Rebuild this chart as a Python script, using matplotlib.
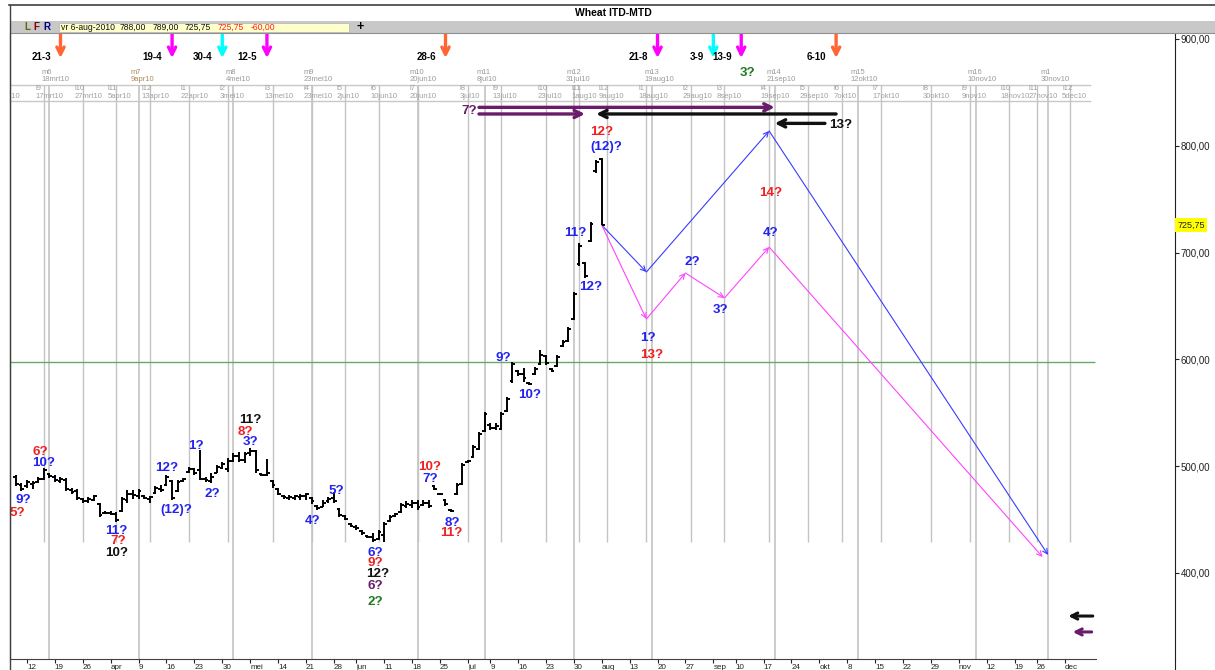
import numpy as np
import pandas as pd
import matplotlib
matplotlib.use("Agg")
import matplotlib.pyplot as plt
from matplotlib.patches import Rectangle
from matplotlib.lines import Line2D
from matplotlib.ticker import FuncFormatter

plt.rcParams['font.family'] = ['Liberation Sans', 'DejaVu Sans']

# ---------------- data ----------------
holidays = ["2010-05-31", "2010-07-05", "2010-09-06", "2010-11-25"]
first_bar = "2010-03-10"
last_bar = "2010-08-06"

bar_high = [492, 484, 487, 486, 490, 498, 494, 492, 490, 489, 480, 479,
            470, 471, 473, 466, 458, 458, 457, 471, 478, 478, 479, 473,
            472, 481, 482, 492, 487, 487, 489, 499, 498, 515, 490, 494,
            501, 504, 508, 512, 513, 513, 517, 515, 494, 507, 487, 480,
            473, 473, 473, 474, 475, 471, 464, 468, 471, 476, 461, 454,
            447, 445, 440, 436, 437, 440, 448, 454, 456, 466, 467, 468,
            468, 468, 468, 482, 475, 469, 460, 484, 503, 506, 520, 532,
            551, 540, 540, 551, 565, 598, 590, 592, 579, 593, 609, 604,
            592, 604, 618, 630, 663, 709, 691, 729, 787, 789]
bar_low = [481, 477, 480, 479, 484, 487, 489, 485, 484, 477, 474, 468,
           466, 466, 467, 452, 455, 454, 448, 457, 466, 469, 469, 469,
           466, 474, 476, 481, 468, 476, 485, 494, 492, 487, 485, 484,
           494, 497, 495, 504, 504, 503, 510, 494, 491, 491, 480, 473,
           469, 468, 468, 468, 468, 465, 459, 462, 466, 466, 452, 450,
           443, 440, 436, 433, 429, 431, 429, 448, 452, 456, 461, 461,
           459, 463, 461, 478, 473, 463, 457, 473, 482, 503, 508, 515,
           532, 534, 534, 534, 551, 578, 584, 579, 576, 585, 595, 595,
           588, 593, 612, 616, 637, 687, 676, 710, 775, 725.75]
bar_open = [490, 482, 481, 483, 485, 488, 493, 490, 486, 487, 478, 477,
            469, 467, 468, 465, 456, 456, 455, 458, 468, 474, 472, 472,
            469, 475, 479, 482, 486, 477, 486, 495, 497, 496, 488, 486,
            494, 498, 497, 505, 510, 506, 512, 514, 493, 492, 486, 479,
            472, 470, 470, 471, 472, 470, 463, 462, 467, 470, 460, 453,
            446, 443, 439, 435, 434, 432, 436, 449, 453, 457, 463, 464,
            466, 464, 466, 481, 474, 468, 459, 474, 483, 504, 509, 516,
            533, 539, 536, 535, 552, 580, 589, 586, 578, 586, 596, 603,
            591, 594, 613, 617, 638, 689, 690, 711, 776, 788]
bar_close = [483, 479, 485, 484, 488, 496, 491, 487, 488, 479, 476, 470,
             467, 469, 472, 454, 456, 455, 450, 469, 474, 473, 477, 470,
             471, 480, 478, 490, 470, 485, 488, 497, 494, 488, 487, 490,
             499, 502, 505, 510, 506, 511, 514, 496, 492, 494, 482, 474,
             471, 471, 472, 472, 474, 467, 461, 466, 469, 467, 454, 451,
             444, 442, 437, 434, 431, 438, 446, 452, 455, 464, 465, 466,
             462, 466, 463, 479, 474, 465, 458, 482, 501, 505, 518, 530,
             549, 536, 538, 549, 563, 596, 586, 583, 577, 591, 604, 597,
             589, 602, 616, 628, 661, 706, 678, 727, 785, 725.75]

last_price = 725.75
support_level = 597.6

tick_labels = ['12', '19', '26', 'apr', '9', '16', '23', '30', 'mei', '14', '21', '28',
               'jun', '11', '18', '25', 'jul', '9', '16', '23', '30', 'aug', '13', '20',
               '27', 'sep', '10', '17', '24', 'okt', '8', '15', '22', '29', 'nov', '12',
               '19', '26', 'dec']
price_ticks = [400, 500, 600, 700, 800, 900]

m_names = ['m6', 'm7', 'm8', 'm9', 'm10', 'm11', 'm12', 'm13', 'm14', 'm15', 'm16', 'm1']
m_dates = ['2010-03-18', '2010-04-09', '2010-05-04', '2010-05-23', '2010-06-20', '2010-07-08',
           '2010-07-31', '2010-08-19', '2010-09-21', '2010-10-12', '2010-11-10', '2010-11-30']
l_names = ['l8', 'l9', 'l10', 'l11', 'l12', 'l1', 'l2', 'l3', 'l4', 'l5', 'l6', 'l7', 'l8', 'l9',
           'l10', 'l11', 'l12', 'l1', 'l2', 'l3', 'l4', 'l5', 'l6', 'l7', 'l8', 'l9', 'l10',
           'l11', 'l12']
l_dates = ['2010-03-08', '2010-03-17', '2010-03-27', '2010-04-05', '2010-04-13', '2010-04-22',
           '2010-05-03', '2010-05-13', '2010-05-23', '2010-06-02', '2010-06-10', '2010-06-20',
           '2010-07-03', '2010-07-13', '2010-07-23', '2010-08-01', '2010-08-09', '2010-08-18',
           '2010-08-29', '2010-09-08', '2010-09-19', '2010-09-29', '2010-10-07', '2010-10-17',
           '2010-10-30', '2010-11-09', '2010-11-18', '2010-11-27', '2010-12-05']

turn_labels = ['21-3', '19-4', '30-4', '12-5', '28-6', '21-8', '3-9', '13-9', '6-10']
turn_dates = ['2010-03-21', '2010-04-19', '2010-04-30', '2010-05-12', '2010-06-28',
              '2010-08-21', '2010-09-03', '2010-09-13', '2010-10-06']
turn_kinds = ['o', 'm', 'c', 'm', 'o', 'm', 'c', 'm', 'o']

blue_dates = ['2010-08-06', '2010-08-18', '2010-09-20', '2010-11-30']
blue_prices = [725.75, 681.8, 813.9, 416.9]
pink_dates = ['2010-08-06', '2010-08-18', '2010-08-27', '2010-09-08', '2010-09-20', '2010-11-29']
pink_prices = [725.75, 637.8, 680.9, 657.5, 705.2, 415.0]

# horizontal time-projection arrows: (kind, start, end, price)
time_arrows = [('p', '2010-07-07', '2010-09-21', 836.0),
               ('p', '2010-07-07', '2010-08-03', 829.8),
               ('k', '2010-10-06', '2010-08-05', 829.8),
               ('k', '2010-10-04', '2010-09-21', 821.0)]
# off-scale markers at right (trading-day offsets from 12 mrt)
marker_arrows = [('k', 191.0, 186.6, 359.7), ('p', 190.8, 187.4, 344.8)]

# wave count labels: (text, colour, trading-day offset, price)
wave_labels = [("5?", 'r', -1.8, 456.2), ("9?", 'b', -0.7, 468.4), ("6?", 'r', 2.3, 513.3),
               ("10?", 'b', 3.0, 503.0), ("11?", 'b', 16.0, 439.3), ("7?", 'r', 16.3, 430.0),
               ("10?", 'k', 16.0, 418.7), ("12?", 'b', 25.1, 498.3), ("(12)?", 'b', 26.7, 459.0),
               ("1?", 'b', 30.3, 518.9), ("2?", 'b', 33.2, 474.0), ("11?", 'k', 40.0, 543.3),
               ("8?", 'r', 39.2, 532.0), ("3?", 'b', 40.1, 522.7), ("4?", 'b', 51.1, 448.7),
               ("5?", 'b', 55.4, 476.8), ("6?", 'b', 62.4, 418.7), ("9?", 'r', 62.4, 409.4),
               ("12?", 'k', 62.9, 399.0), ("6?", 'p', 62.4, 387.8), ("2?", 'g', 62.4, 372.8),
               ("10?", 'r', 72.2, 499.3), ("7?", 'b', 72.2, 488.0), ("8?", 'b', 76.3, 446.8),
               ("11?", 'r', 76.0, 437.5), ("9?", 'b', 85.3, 601.3), ("10?", 'b', 90.1, 566.7),
               ("11?", 'b', 98.2, 718.4), ("12?", 'b', 101.1, 667.8), ("12?", 'r', 103.0, 812.9),
               ("(12)?", 'b', 103.8, 798.9), ("1?", 'b', 111.3, 620.0), ("13?", 'r', 112.0, 604.1),
               ("2?", 'b', 119.2, 691.2), ("3?", 'b', 124.2, 646.3), ("14?", 'r', 133.2, 755.8),
               ("4?", 'b', 133.3, 718.4), ("3?", 'g', 129.2, 868.2), ("13?", 'k', 145.9, 819.5),
               ("7?", 'p', 79.2, 832.6)]

COL = {'b': '#2323F0', 'r': '#F02020', 'k': '#111111', 'p': '#6A1B6A', 'g': '#1E7B1E',
       'o': '#FF6633', 'm': '#FF00FF', 'c': '#00FFFF'}
DUTCH = ['', 'jan', 'feb', 'mrt', 'apr', 'mei', 'jun', 'jul', 'aug', 'sep', 'okt', 'nov', 'dec']

# ---------------- trading calendar ----------------
days = pd.bdate_range('2010-03-01', '2010-12-31')
days = days[~days.isin(pd.to_datetime(holidays))]
day_set = set(days)
origin = days.get_loc(pd.Timestamp('2010-03-12'))


def tx(date):
    d = pd.Timestamp(date)
    if d.weekday() == 5:
        d -= pd.Timedelta(days=1)
    elif d.weekday() == 6:
        d += pd.Timedelta(days=1)
    while d not in day_set:
        d += pd.Timedelta(days=1)
    return days.get_loc(d) - origin


bar_days = days[(days >= first_bar) & (days <= last_bar)]
bx = np.array([days.get_loc(d) - origin for d in bar_days], dtype=float)

# ---------------- figure ----------------
W, H = 1215, 670
fig = plt.figure(figsize=(W / 100, H / 100), dpi=100)
fig.patch.set_facecolor('white')


def fx(x):
    return x / W


def fy(y):
    return 1 - y / H


AX_L, AX_R, AX_T, AX_B = 10, 1175, 33, 659
ax = fig.add_axes([fx(AX_L), fy(AX_B), (AX_R - AX_L) / W, (AX_B - AX_T) / H])
PX_DAY = 5.58
X0PX = 27
ax.set_xlim((AX_L - X0PX) / PX_DAY, (AX_R - X0PX) / PX_DAY)
ax.set_ylim(400 + (573 - AX_B) / 1.068, 400 + (573 - AX_T) / 1.068)


def yfrac(ypx):
    return (AX_B - ypx) / (AX_B - AX_T)


def xdat(xpx):
    return (xpx - X0PX) / PX_DAY


xt = ax.get_xaxis_transform()

# spines / axes
ax.spines['top'].set_visible(False)
ax.spines['left'].set_color('#404040')
ax.spines['right'].set_color('#202020')
ax.spines['bottom'].set_color('#404040')
ax.spines['bottom'].set_bounds(ax.get_xlim()[0], xdat(1096))

fridays = pd.date_range('2010-03-12', '2010-12-03', freq='W-FRI')
ax.set_xticks([tx(d) for d in fridays])
ax.set_xticklabels(tick_labels)
ax.tick_params(axis='x', direction='out', length=3, width=0.8, pad=0.5,
               labelsize=5.8, colors='#222222')
for lab in ax.get_xticklabels():
    lab.set_horizontalalignment('left')

ax.yaxis.tick_right()
ax.set_yticks(price_ticks)
ax.yaxis.set_major_formatter(FuncFormatter(lambda v, p: f"{v:.2f}".replace('.', ',')))
ax.tick_params(axis='y', direction='out', length=3, width=0.8, pad=1, labelsize=7,
               colors='#222222')

# header grid rows
row_end = xdat(1090)
for ypx in (85, 101):
    ax.plot([ax.get_xlim()[0], row_end], [yfrac(ypx)] * 2, transform=xt,
            color='#C8C8C8', lw=1, zorder=1)

# vertical cycle lines
lx = [tx(d) for d in l_dates]
mx = [tx(d) for d in m_dates]
ax.vlines(lx, yfrac(542), yfrac(85), transform=xt, color='#C4C4C4', lw=1, zorder=1)
ax.vlines(mx, 0, yfrac(85), transform=xt, color='#C4C4C4', lw=1.2, zorder=1)

for name, d, x in zip(m_names, m_dates, mx):
    dt = pd.Timestamp(d)
    col = '#B08858' if name == 'm7' else '#9A9A9A'
    ax.annotate(f"{name}\n{dt.day}{DUTCH[dt.month]}10", xy=(x, yfrac(76)),
                xycoords=('data', 'axes fraction'), xytext=(-5.6, 0),
                textcoords='offset points', ha='left', va='center', fontsize=5.5,
                color=col, linespacing=1.1, annotation_clip=False, clip_on=True)
for name, d, x in zip(l_names, l_dates, lx):
    dt = pd.Timestamp(d)
    ax.annotate(f"{name}\n{dt.day}{DUTCH[dt.month]}10", xy=(x, yfrac(92.5)),
                xycoords=('data', 'axes fraction'), xytext=(-6, 0),
                textcoords='offset points', ha='left', va='center', fontsize=5.5,
                color='#A0A0A0', linespacing=1.1, annotation_clip=False, clip_on=True)

# support line
ax.hlines(support_level, ax.get_xlim()[0], xdat(1095), color='#66AA66', lw=1, zorder=2)

# OHLC bars
tw = 0.5
ax.vlines(bx, bar_low, bar_high, color='black', lw=1.4, zorder=4)
ax.hlines(bar_open, bx - tw, bx, color='black', lw=1.4, zorder=4)
ax.hlines(bar_close, bx, bx + tw, color='black', lw=1.4, zorder=4)


# projection paths
def path(dates, prices, col):
    xs = [tx(d) for d in dates]
    for i in range(len(xs) - 1):
        ax.annotate('', xy=(xs[i + 1], prices[i + 1]), xytext=(xs[i], prices[i]),
                    arrowprops=dict(arrowstyle='->', color=col, lw=0.8, shrinkA=0,
                                    shrinkB=0, mutation_scale=9), zorder=3)


path(blue_dates, blue_prices, '#3B3BFF')
path(pink_dates, pink_prices, '#FF44FF')

# time arrows
for kind, a, b, pr in time_arrows:
    ax.annotate('', xy=(tx(b), pr), xytext=(tx(a), pr),
                arrowprops=dict(arrowstyle='->', color=COL[kind], lw=2.4, shrinkA=0,
                                shrinkB=0, mutation_scale=13), zorder=5)
for kind, a, b, pr in marker_arrows:
    ax.annotate('', xy=(b, pr), xytext=(a, pr),
                arrowprops=dict(arrowstyle='->', color=COL[kind], lw=2.2, shrinkA=0,
                                shrinkB=0, mutation_scale=11), zorder=5)

# turning date arrows at top
for lab, d, k in zip(turn_labels, turn_dates, turn_kinds):
    x = tx(d)
    ax.annotate('', xy=(x, yfrac(58)), xycoords=('data', 'axes fraction'),
                xytext=(x, yfrac(33.5)), textcoords=('data', 'axes fraction'),
                arrowprops=dict(arrowstyle='->', color=COL[k], lw=2.4, shrinkA=0,
                                shrinkB=0, mutation_scale=13), annotation_clip=False)
    ax.annotate(lab, xy=(x, yfrac(57)), xycoords=('data', 'axes fraction'),
                xytext=(-7, 0), textcoords='offset points', ha='right', va='center',
                fontsize=7, fontweight='bold', color='black', annotation_clip=False)

# wave labels
for t, c, x, pr in wave_labels:
    ax.text(x, pr, t, color=COL[c], fontsize=9.6, fontweight='bold', ha='center',
            va='center', zorder=6)

# last price tag
ax.annotate(f"{last_price:.2f}".replace('.', ','), xy=(1, last_price),
            xycoords=('axes fraction', 'data'), xytext=(1.5, 0), textcoords='offset points',
            ha='left', va='center', fontsize=6.5, color='#222222', annotation_clip=False,
            bbox=dict(boxstyle='square,pad=0.25', fc='yellow', ec='none'))

# ---------------- window chrome ----------------
fig.add_artist(Rectangle((fx(10), fy(33)), 1 - fx(10), 12 / H, transform=fig.transFigure,
                         facecolor='#C8C8C8', edgecolor='none'))
fig.add_artist(Rectangle((fx(59), fy(32)), 290 / W, 9 / H, transform=fig.transFigure,
                         facecolor='#FFFFCC', edgecolor='#B4B4B4', lw=0.5))
fig.add_artist(Line2D([fx(9), 1], [fy(5), fy(5)], transform=fig.transFigure,
                      color='#404040', lw=1.2))
fig.add_artist(Line2D([fx(10), 1], [fy(33), fy(33)], transform=fig.transFigure,
                      color='#909090', lw=0.8))
fig.add_artist(Line2D([fx(9.5), fx(9.5)], [fy(5), 0], transform=fig.transFigure,
                      color='#404040', lw=1))
fig.add_artist(Line2D([fx(AX_R), fx(AX_R)], [fy(AX_B), 0], transform=fig.transFigure,
                      color='#202020', lw=0.8))

fig.text(fx(613), fy(13), 'Wheat ITD-MTD', ha='center', va='center', fontsize=7.5,
         fontweight='bold')
for t, x, c in [('L', 24, '#666600'), ('F', 33, '#800000'), ('R', 43, '#000080')]:
    fig.text(fx(x), fy(27.5), t, ha='left', va='center', fontsize=7, fontweight='bold', color=c)
for t, x, c in [('vr 6-aug-2010', 61, '#111111'), ('788,00', 120, '#111111'),
                ('789,00', 153, '#111111'), ('725,75', 185, '#111111'),
                ('725,75', 218, '#FF2020'), ('-60,00', 251, '#FF2020')]:
    fig.text(fx(x), fy(27.5), t, ha='left', va='center', fontsize=6.2, color=c)
fig.text(fx(360), fy(27), '+', ha='center', va='center', fontsize=9, fontweight='bold')

fig.savefig('out.png', dpi=100)
